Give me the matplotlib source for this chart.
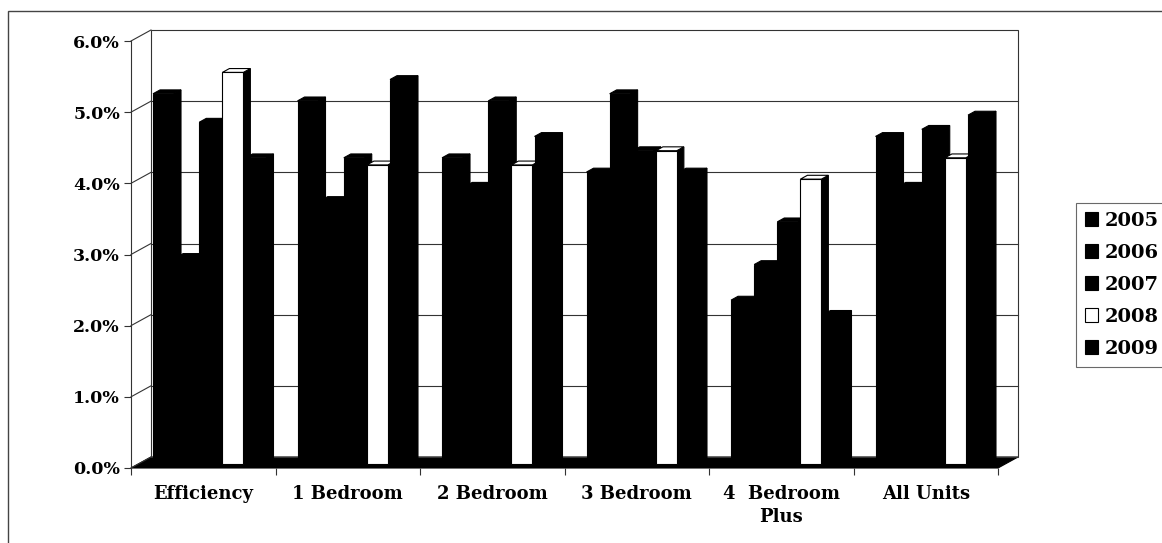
import numpy as np
import matplotlib.pyplot as plt
from matplotlib.patches import Polygon, Rectangle, Patch

categories = ["Efficiency", "1 Bedroom", "2 Bedroom", "3 Bedroom",
              "4  Bedroom\nPlus", "All Units"]
years = ["2005", "2006", "2007", "2008", "2009"]
# vacancy rate by unit size, percent
v2005 = [5.2, 5.1, 4.3, 4.1, 2.3, 4.6]
v2006 = [2.9, 3.7, 3.9, 5.2, 2.8, 3.9]
v2007 = [4.8, 4.3, 5.1, 4.4, 3.4, 4.7]
v2008 = [5.5, 4.2, 4.2, 4.4, 4.0, 4.3]
v2009 = [4.3, 5.4, 4.6, 4.1, 2.1, 4.9]
yticks = [0, 1, 2, 3, 4, 5, 6]
ytick_labels = ["0.0%", "1.0%", "2.0%", "3.0%", "4.0%", "5.0%", "6.0%"]

series = [v2005, v2006, v2007, v2008, v2009]
colors = ["black", "black", "black", "white", "black"]

W, H = 1162, 543
fig = plt.figure(figsize=(W / 100, H / 100), dpi=100)
ax = fig.add_axes([131 / W, (H - 468) / H, 867 / W, 427 / H])
ax.set_xlim(0, 6)
ax.set_ylim(0, 6)
for s in ax.spines.values():
    s.set_visible(False)

serif = "DejaVu Serif"
grey = "#333333"

# oblique depth of the plot box in data units
DX = 20 / (867 / 6)
DY = 11 / (427 / 6)
f0, f1 = 0.38, 0.73

# floor
ax.add_patch(Polygon([(0, 0), (6, 0), (6 + DX, DY), (DX, DY)], closed=True,
                     fc="black", ec="black", lw=0.8, clip_on=False, zorder=1))
# back wall and its gridlines
ax.add_patch(Rectangle((DX, DY), 6, 6, fill=False, ec=grey, lw=0.8,
                       clip_on=False, zorder=1))
for t in yticks[1:-1]:
    ax.plot([DX, 6 + DX], [t + DY, t + DY], color=grey, lw=0.8,
            clip_on=False, zorder=1)
# side wall
for t in yticks:
    ax.plot([0, DX], [t, t + DY], color=grey, lw=0.8, clip_on=False, zorder=1)
ax.plot([0, 0], [0, 6], color=grey, lw=0.8, clip_on=False, zorder=1)

# 3d-looking columns
bw, step, off = 0.145, 0.16, 0.10
bdx, bdy = (f1 - f0) * DX, (f1 - f0) * DY
base = f0 * DY
idx = np.arange(len(categories))
for j, vals in enumerate(series):
    z = 3 + 3 * j
    xl = idx + off + j * step + f0 * DX
    ax.bar(xl, vals, width=bw, bottom=base, align="edge", color=colors[j],
           edgecolor="black", lw=0.8, zorder=z + 2, clip_on=False)
    for x, v in zip(xl, vals):
        top = base + v
        ax.add_patch(Polygon([(x, top), (x + bw, top), (x + bw + bdx, top + bdy),
                              (x + bdx, top + bdy)], closed=True, fc=colors[j],
                             ec="black", lw=0.8, zorder=z + 1, clip_on=False))
        ax.add_patch(Polygon([(x + bw, base), (x + bw, top),
                              (x + bw + bdx, top + bdy), (x + bw + bdx, base + bdy)],
                             closed=True, fc="black", ec="black", lw=0.8,
                             zorder=z, clip_on=False))

ax.set_yticks(yticks, ytick_labels)
ax.tick_params(axis="y", length=5, width=0.8, pad=3, labelsize=12.5, color=grey)
ax.set_xticks(idx + 0.5, categories)
ax.tick_params(axis="x", which="major", length=0, pad=12, labelsize=13)
ax.set_xticks(np.arange(7), minor=True)
ax.tick_params(axis="x", which="minor", length=5, width=0.8, color=grey)
for lab in ax.get_xticklabels() + ax.get_yticklabels():
    lab.set_fontfamily(serif)
    lab.set_fontweight("bold")
for lab in ax.get_xticklabels():
    lab.set_linespacing(1.4)

# chart area border
fig.add_artist(Rectangle((8 / W, -0.1), 1.2, (H - 11) / H + 0.1,
                         transform=fig.transFigure, fill=False, ec="#444444", lw=1))

handles = [Patch(fc=c, ec="black", lw=0.8) for c in colors]
leg = fig.legend(handles, years, loc="upper left",
                 bbox_to_anchor=(1076 / W, (H - 203) / H),
                 prop=dict(family=serif, weight="bold", size=14),
                 frameon=True, fancybox=False, edgecolor="#444444",
                 borderpad=0.45, labelspacing=0.72, handlelength=0.7,
                 handleheight=0.7, handletextpad=0.35, borderaxespad=0)
leg.get_frame().set_linewidth(0.8)

fig.savefig("out.png", dpi=100)
